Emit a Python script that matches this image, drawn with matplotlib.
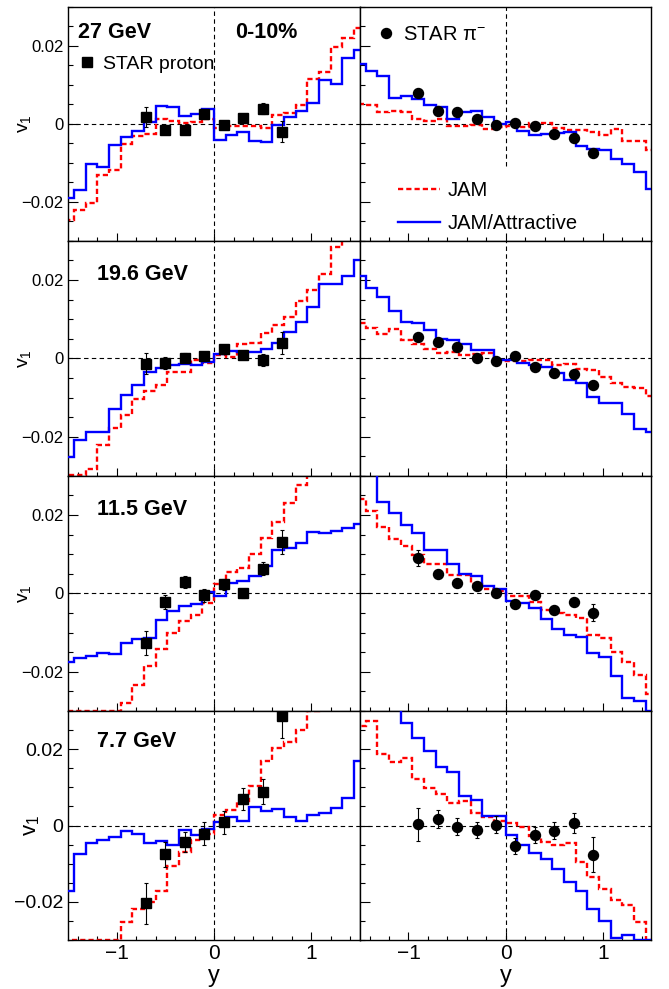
#v1 of protons and pi- vs rapidity, STAR data vs JAM
import numpy as np
import matplotlib.pyplot as plt
from matplotlib.lines import Line2D
from matplotlib.ticker import MultipleLocator

plt.rcParams['font.family'] = ['Liberation Sans', 'DejaVu Sans']
plt.rcParams['mathtext.fontset'] = 'custom'
plt.rcParams['mathtext.rm'] = 'Liberation Sans'
plt.rcParams['mathtext.it'] = 'Liberation Sans'
plt.rcParams['mathtext.default'] = 'regular'

energies = ['27 GeV', '19.6 GeV', '11.5 GeV', '7.7 GeV']

# model histograms: 26 bins of width 0.12 from -1.56 to 1.56
bin_lo = -1.56
bin_w = 0.12
n_bins = 26

# protons, JAM (red dashed) and JAM/Attractive (blue)
jam_p_27 = [-0.0247, -0.0221, -0.0202, -0.0132, -0.0119, -0.0052, -0.0031, -0.0026, 0.0012, 0.0008, 0.0002, 0.0004, 0.0013,
            -0.0011, -0.0007, -0.0005, -0.0007, -0.0011, 0.0023, 0.0027, 0.0048, 0.0116, 0.0132, 0.0197, 0.0220, 0.0245]
att_p_27 = [-0.0189, -0.0170, -0.0102, -0.0112, -0.0055, -0.0034, -0.0018, 0.0004, 0.0045, 0.0043, 0.0019, 0.0025, 0.0039,
            -0.0041, -0.0028, -0.0022, -0.0045, -0.0047, -0.0004, 0.0017, 0.0034, 0.0054, 0.0111, 0.0102, 0.0169, 0.0188]
jam_p_19 = [-0.0299, -0.0299, -0.0283, -0.0221, -0.0177, -0.0145, -0.0104, -0.0083, -0.0068, -0.0035, -0.0035, -0.0004, -0.0011,
            0.0008, 0.0004, 0.0036, 0.0039, 0.0065, 0.0084, 0.0106, 0.0146, 0.0174, 0.0216, 0.0284, 0.035, 0.035]
att_p_19 = [-0.0251, -0.0209, -0.0189, -0.0189, -0.0130, -0.0093, -0.0068, -0.0035, -0.0024, -0.0016, -0.0014, -0.0018, -0.0010,
            0.0012, 0.0018, 0.0017, 0.0017, 0.0023, 0.0038, 0.0068, 0.0093, 0.0131, 0.0189, 0.0189, 0.0209, 0.0252]
jam_p_11 = [-0.0299, -0.0299, -0.0299, -0.0299, -0.0299, -0.0279, -0.0234, -0.0185, -0.0143, -0.0102, -0.0070, -0.0054, -0.0024,
            0.0025, 0.0054, 0.0065, 0.0101, 0.0142, 0.0182, 0.0231, 0.0278, 0.035, 0.035, 0.035, 0.035, 0.035]
att_p_11 = [-0.0175, -0.0166, -0.0160, -0.0153, -0.0154, -0.0127, -0.0117, -0.0113, -0.0069, -0.0045, -0.0032, -0.0028, 0.0004,
            -0.0007, 0.0027, 0.0031, 0.0044, 0.0070, 0.0112, 0.0116, 0.0129, 0.0156, 0.0153, 0.0159, 0.0167, 0.0176]
jam_p_7 = [-0.0299, -0.0299, -0.0299, -0.0299, -0.0299, -0.0254, -0.0218, -0.0201, -0.0172, -0.0107, -0.0069, -0.0039, -0.0021,
           0.0027, 0.0040, 0.0065, 0.0104, 0.0169, 0.0203, 0.0218, 0.0251, 0.0299, 0.035, 0.035, 0.035, 0.035]
att_p_7 = [-0.0172, -0.0074, -0.0047, -0.0039, -0.0030, -0.0015, -0.0023, -0.0046, -0.0041, -0.0050, -0.0012, -0.0024, -0.0010,
           0.0008, 0.0022, 0.0011, 0.0048, 0.0039, 0.0043, 0.0021, 0.0011, 0.0027, 0.0034, 0.0046, 0.0071, 0.0169]

# pi-, JAM and JAM/Attractive
jam_pi_27 = [0.0051, 0.0048, 0.0031, 0.0033, 0.0031, 0.0013, 0.0008, 0.0012, -0.0005, -0.0007, -0.0002, -0.0013, -0.0008,
             -0.0007, -0.0009, 0.0001, 0.0003, -0.0011, -0.0015, -0.0015, -0.0022, -0.0030, -0.0013, -0.0044, -0.0044, -0.0066]
att_pi_27 = [0.0152, 0.0135, 0.0123, 0.0066, 0.0070, 0.0063, 0.0048, 0.0042, 0.0012, 0.0031, 0.0032, 0.0017, 0.0000,
             0.0004, -0.0018, -0.0029, -0.0025, -0.0024, -0.0021, -0.0056, -0.0065, -0.0068, -0.0090, -0.0102, -0.0124, -0.0166]
jam_pi_19 = [0.0091, 0.0078, 0.0061, 0.0074, 0.0046, 0.0037, 0.0025, 0.0013, 0.0017, 0.0008, 0.0010, 0.0013, -0.0007,
             -0.0008, -0.0007, -0.0003, -0.0003, -0.0017, -0.0015, -0.0028, -0.0030, -0.0048, -0.0064, -0.0073, -0.0076, -0.0096]
att_pi_19 = [0.0210, 0.0180, 0.0157, 0.0121, 0.0093, 0.0091, 0.0072, 0.0050, 0.0046, 0.0036, 0.0022, 0.0022, -0.0005,
             -0.0003, -0.0011, -0.0018, -0.0022, -0.0037, -0.0054, -0.0064, -0.0098, -0.0115, -0.0113, -0.0141, -0.0181, -0.0189]
jam_pi_11 = [0.0241, 0.0210, 0.0170, 0.0138, 0.0121, 0.0098, 0.0076, 0.0076, 0.0048, 0.0046, 0.0023, 0.0012, 0.0006,
             -0.0007, -0.0007, -0.0022, -0.0042, -0.0051, -0.0056, -0.0062, -0.0106, -0.0113, -0.0149, -0.0174, -0.0208, -0.0257]
att_pi_11 = [0.035, 0.035, 0.0234, 0.0206, 0.0174, 0.0155, 0.0112, 0.0112, 0.0074, 0.0050, 0.0044, 0.0019, 0.0012,
             -0.0020, -0.0024, -0.0037, -0.0066, -0.0092, -0.0107, -0.0110, -0.0151, -0.0162, -0.0211, -0.0266, -0.0274, -0.0299]
jam_pi_7 = [0.0260, 0.0273, 0.0188, 0.0166, 0.0177, 0.0122, 0.0098, 0.0082, 0.0060, 0.0065, 0.0033, 0.0022, 0.0011,
            0.0007, -0.0004, -0.0027, -0.0044, -0.0052, -0.0045, -0.0095, -0.0135, -0.0165, -0.0196, -0.0209, -0.0254, -0.0299]
att_pi_7 = [0.035, 0.035, 0.035, 0.035, 0.0268, 0.0229, 0.0194, 0.0152, 0.0140, 0.0076, 0.0067, 0.0024, 0.0024,
            -0.0026, -0.0051, -0.0073, -0.0087, -0.0115, -0.0149, -0.0172, -0.0218, -0.0250, -0.0295, -0.0288, -0.0299, -0.0299]

# STAR data
y_p = [-0.7, -0.5, -0.3, -0.1, 0.1, 0.3, 0.5, 0.7]
y_pi = [-0.9, -0.7, -0.5, -0.3, -0.1, 0.1, 0.3, 0.5, 0.7, 0.9]

p_27 = [0.0017, -0.0015, -0.0017, 0.0025, -0.0004, 0.0016, 0.0038, -0.0020]
pe_27 = [0.0025, 0.0010, 0.0008, 0.0010, 0.0010, 0.0010, 0.0014, 0.0027]
p_19 = [-0.0014, -0.0011, 0.0002, 0.0005, 0.0023, 0.0008, -0.0005, 0.0038]
pe_19 = [0.0027, 0.0015, 0.0012, 0.0010, 0.0012, 0.0010, 0.0015, 0.0028]
p_11 = [-0.0127, -0.0022, 0.0029, -0.0005, 0.0023, 0.0000, 0.0063, 0.0132]
pe_11 = [0.0031, 0.0018, 0.0015, 0.0016, 0.0015, 0.0012, 0.0017, 0.0031]
p_7 = [-0.0204, -0.0075, -0.0043, -0.0021, 0.0008, 0.0069, 0.0089, 0.0286]
pe_7 = [0.0054, 0.0033, 0.0026, 0.0029, 0.0029, 0.0028, 0.0032, 0.0057]

pi_27 = [0.0080, 0.0034, 0.0029, 0.0013, -0.0004, 0.0002, -0.0007, -0.0025, -0.0037, -0.0075]
pie_27 = [0.0006, 0.0006, 0.0006, 0.0006, 0.0006, 0.0006, 0.0006, 0.0006, 0.0006, 0.0008]
pi_19 = [0.0055, 0.0042, 0.0029, 0.0000, -0.0007, 0.0005, -0.0022, -0.0037, -0.0039, -0.0069]
pie_19 = [0.0008, 0.0007, 0.0007, 0.0007, 0.0007, 0.0007, 0.0007, 0.0007, 0.0007, 0.0010]
pi_11 = [0.0091, 0.0050, 0.0027, 0.0020, 0.0000, -0.0028, -0.0005, -0.0043, -0.0021, -0.0049]
pie_11 = [0.0020, 0.0008, 0.0008, 0.0008, 0.0008, 0.0008, 0.0008, 0.0008, 0.0008, 0.0021]
pi_7 = [0.0003, 0.0017, -0.0003, -0.0011, 0.0002, -0.0053, -0.0025, -0.0014, 0.0007, -0.0076]
pie_7 = [0.0044, 0.0024, 0.0022, 0.0021, 0.0022, 0.0021, 0.0022, 0.0022, 0.0027, 0.0045]

jam_p = [jam_p_27, jam_p_19, jam_p_11, jam_p_7]
att_p = [att_p_27, att_p_19, att_p_11, att_p_7]
jam_pi = [jam_pi_27, jam_pi_19, jam_pi_11, jam_pi_7]
att_pi = [att_pi_27, att_pi_19, att_pi_11, att_pi_7]
star_p = [(p_27, pe_27), (p_19, pe_19), (p_11, pe_11), (p_7, pe_7)]
star_pi = [(pi_27, pie_27), (pi_19, pie_19), (pi_11, pie_11), (pi_7, pie_7)]

edges = bin_lo + bin_w * np.arange(n_bins + 1)

RED = '#ff0000'
BLUE = '#0000ff'

fig, axes = plt.subplots(4, 2, figsize=(6.69, 9.89), dpi=100,
                         gridspec_kw=dict(height_ratios=[234, 235, 235, 229], wspace=0, hspace=0,
                                          left=0.1021, right=0.9738, top=0.9932, bottom=0.0495))

for i in range(4):
    last = (i == 3)
    tick_fs = 14 if last else 12
    for j in range(2):
        ax = axes[i, j]
        ax.set_xlim(-1.5, 1.5)
        ax.set_ylim(-0.03, 0.03)
        ax.axhline(0, color='k', lw=0.8, ls=(0, (4, 3)), zorder=1)
        if i == 0 and j == 1:
            # legend box hides the lower part of this line
            ax.axvline(0, ymin=0.318, color='k', lw=0.8, ls=(0, (4, 3)), zorder=1)
        else:
            ax.axvline(0, color='k', lw=0.8, ls=(0, (4, 3)), zorder=1)

        if j == 0:
            jam, att, (d, de), mk, yd = jam_p[i], att_p[i], star_p[i], 's', y_p
        else:
            jam, att, (d, de), mk, yd = jam_pi[i], att_pi[i], star_pi[i], 'o', y_pi
        ax.stairs(jam, edges, color=RED, lw=1.7, ls=(0, (2.2, 1.3)), zorder=2, label='JAM')
        ax.stairs(att, edges, color=BLUE, lw=1.7, zorder=3, label='JAM/Attractive')
        ax.errorbar(yd, d, yerr=de, fmt='none', ecolor='k', elinewidth=0.8, capsize=1.5, capthick=0.8, zorder=4)
        ax.plot(yd, d, mk, color='k', ms=6.8 if mk == 's' else 7.2, ls='none', zorder=5)

        ax.xaxis.set_major_locator(MultipleLocator(1))
        ax.xaxis.set_minor_locator(MultipleLocator(0.2))
        ax.set_yticks([-0.02, 0, 0.02])
        ax.yaxis.set_minor_locator(MultipleLocator(0.005))
        ax.tick_params(which='both', direction='in', top=False, right=False, width=0.8)
        ax.tick_params(axis='y', which='major', length=7.5, pad=3.5, labelsize=tick_fs)
        ax.tick_params(axis='y', which='minor', length=3.8)
        ax.tick_params(axis='x', which='major', length=5.5, pad=2.5, labelsize=15)
        ax.tick_params(axis='x', which='minor', length=2.8)
        for s in ax.spines.values():
            s.set_linewidth(1.0)

        if j == 0:
            ax.set_yticklabels(['\u22120.02', '0', '0.02'])
            ax.set_ylabel('$v_1$', fontsize=16 if last else 14)
            ax.yaxis.set_label_coords(-0.09 if last else -0.12, 0.5)
        else:
            ax.set_yticklabels([])
        if last:
            ax.set_xticks([-1, 0, 1], ['\u22121', '0', '1'])
            ax.set_xlabel('y', fontsize=17)
            ax.xaxis.set_label_coords(0.5, -0.108)
        else:
            ax.set_xticklabels([])

    # energy label
    if i == 0:
        axes[i, 0].text(0.033, 0.891, energies[i], transform=axes[i, 0].transAxes, fontsize=15.5,
                        fontweight='bold', va='center', ha='left')
        axes[i, 0].text(0.571, 0.891, '0-10%', transform=axes[i, 0].transAxes, fontsize=15.5,
                        fontweight='bold', va='center', ha='left')
    else:
        ty = 0.865 if last else 0.855
        axes[i, 0].text(0.098, ty, energies[i], transform=axes[i, 0].transAxes, fontsize=15.5,
                        fontweight='bold', va='center', ha='left')

# legends
h_p = Line2D([], [], marker='s', color='k', ls='none', ms=6.8)
h_pi = Line2D([], [], marker='o', color='k', ls='none', ms=7.2)
axes[0, 0].legend([h_p], ['STAR proton'], loc='upper left', bbox_to_anchor=(0.036, 0.794), frameon=False,
                  borderpad=0, borderaxespad=0, handlelength=0.8, handletextpad=0.45, fontsize=14)
axes[0, 1].legend([h_pi], ['STAR \u03c0$^{-}$'], loc='upper left', bbox_to_anchor=(0.063, 0.923), frameon=False,
                  borderpad=0, borderaxespad=0, handlelength=0.8, handletextpad=0.45, fontsize=14.5)
h_jam = Line2D([], [], color=RED, lw=1.7, ls=(0, (2.2, 1.3)))
h_att = Line2D([], [], color=BLUE, lw=1.7)
axes[0, 1].add_artist(axes[0, 1].get_legend())
axes[0, 1].legend([h_jam, h_att], ['JAM', 'JAM/Attractive'], loc='upper left', bbox_to_anchor=(0.129, 0.257),
                  frameon=False, borderpad=0, borderaxespad=0, handlelength=2.1, handletextpad=0.4,
                  labelspacing=0.7, fontsize=14.5)

plt.savefig('out.png', dpi=100)
